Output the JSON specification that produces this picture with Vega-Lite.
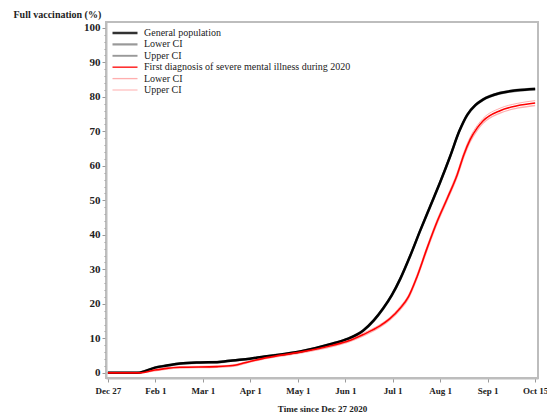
{
  "$schema": "https://vega.github.io/schema/vega-lite/v6.json",
  "width": 432,
  "height": 356,
  "autosize": {"type": "none"},
  "padding": {"left": 106, "top": 22, "right": 9, "bottom": 39},
  "background": "white",
  "config": {
    "view": {"stroke": "#bdbdbd", "strokeWidth": 2},
    "font": "'Liberation Serif', 'Times New Roman', serif",
    "axis": {"grid": false, "domainColor": "#bdbdbd", "domainWidth": 2, "tickColor": "#9a9a9a", "labelFont": "'Liberation Serif', 'Times New Roman', serif", "titleFont": "'Liberation Serif', 'Times New Roman', serif", "labelColor": "#222", "titleColor": "#222"}
  },
  "data": {"values": [
    {"t": 0, "g": 0, "gl": 0, "gu": 0.05},
    {"t": 0.61, "g": 0, "gl": 0, "gu": 0.05},
    {"t": 0.78, "g": 0.5, "gl": 0.4, "gu": 0.6},
    {"t": 0.99, "g": 1.5, "gl": 1.4, "gu": 1.6},
    {"t": 1.24, "g": 2.1, "gl": 2.0, "gu": 2.2},
    {"t": 1.52, "g": 2.7, "gl": 2.6, "gu": 2.8},
    {"t": 1.94, "g": 3.0, "gl": 2.9, "gu": 3.1},
    {"t": 2.30, "g": 3.1, "gl": 3.0, "gu": 3.2},
    {"t": 2.63, "g": 3.6, "gl": 3.5, "gu": 3.7},
    {"t": 2.99, "g": 4.1, "gl": 4.0, "gu": 4.2},
    {"t": 3.35, "g": 4.8, "gl": 4.7, "gu": 4.9},
    {"t": 4.05, "g": 6.2, "gl": 6.1, "gu": 6.3},
    {"t": 4.74, "g": 8.5, "gl": 8.4, "gu": 8.6},
    {"t": 5.06, "g": 9.9, "gl": 9.8, "gu": 10.0},
    {"t": 5.38, "g": 12.3, "gl": 12.2, "gu": 12.4},
    {"t": 5.60, "g": 15.2, "gl": 15.05, "gu": 15.35},
    {"t": 5.80, "g": 18.7, "gl": 18.55, "gu": 18.85},
    {"t": 5.98, "g": 22.5, "gl": 22.35, "gu": 22.65},
    {"t": 6.16, "g": 27.3, "gl": 27.15, "gu": 27.45},
    {"t": 6.37, "g": 34.0, "gl": 33.85, "gu": 34.15},
    {"t": 6.58, "g": 41.3, "gl": 41.15, "gu": 41.45},
    {"t": 6.79, "g": 48.3, "gl": 48.15, "gu": 48.45},
    {"t": 7.00, "g": 55.3, "gl": 55.15, "gu": 55.45},
    {"t": 7.21, "g": 62.8, "gl": 62.65, "gu": 62.95},
    {"t": 7.40, "g": 70.0, "gl": 69.85, "gu": 70.15},
    {"t": 7.57, "g": 74.8, "gl": 74.65, "gu": 74.95},
    {"t": 7.74, "g": 77.6, "gl": 77.45, "gu": 77.75},
    {"t": 7.90, "g": 79.2, "gl": 79.05, "gu": 79.35},
    {"t": 8.26, "g": 81.1, "gl": 80.95, "gu": 81.25},
    {"t": 8.62, "g": 81.9, "gl": 81.75, "gu": 82.05},
    {"t": 9.00, "g": 82.3, "gl": 82.15, "gu": 82.45},
    {"t": 0, "s": 0, "sl": 0, "su": 0.05},
    {"t": 0.67, "s": 0, "sl": 0, "su": 0.05},
    {"t": 0.99, "s": 0.8, "sl": 0.6, "su": 1.0},
    {"t": 1.24, "s": 1.3, "sl": 1.1, "su": 1.5},
    {"t": 1.52, "s": 1.6, "sl": 1.4, "su": 1.8},
    {"t": 2.30, "s": 1.8, "sl": 1.6, "su": 2.0},
    {"t": 2.63, "s": 2.1, "sl": 1.9, "su": 2.3},
    {"t": 2.99, "s": 3.3, "sl": 3.1, "su": 3.5},
    {"t": 3.35, "s": 4.4, "sl": 4.2, "su": 4.7},
    {"t": 4.05, "s": 6.0, "sl": 5.7, "su": 6.3},
    {"t": 4.74, "s": 8.0, "sl": 7.7, "su": 8.3},
    {"t": 5.06, "s": 9.2, "sl": 8.9, "su": 9.5},
    {"t": 5.38, "s": 11.1, "sl": 10.7, "su": 11.5},
    {"t": 5.73, "s": 13.6, "sl": 13.2, "su": 14.0},
    {"t": 5.94, "s": 15.7, "sl": 15.3, "su": 16.1},
    {"t": 6.16, "s": 18.8, "sl": 18.3, "su": 19.3},
    {"t": 6.33, "s": 22.0, "sl": 21.5, "su": 22.5},
    {"t": 6.51, "s": 27.8, "sl": 27.3, "su": 28.4},
    {"t": 6.72, "s": 36.0, "sl": 35.4, "su": 36.6},
    {"t": 6.94, "s": 44.0, "sl": 43.4, "su": 44.6},
    {"t": 7.15, "s": 50.6, "sl": 50.0, "su": 51.2},
    {"t": 7.36, "s": 57.5, "sl": 56.9, "su": 58.2},
    {"t": 7.50, "s": 63.3, "sl": 62.6, "su": 64.0},
    {"t": 7.63, "s": 67.6, "sl": 66.9, "su": 68.3},
    {"t": 7.78, "s": 71.0, "sl": 70.3, "su": 71.7},
    {"t": 7.90, "s": 73.0, "sl": 72.3, "su": 73.7},
    {"t": 8.26, "s": 76.0, "sl": 75.3, "su": 76.7},
    {"t": 8.62, "s": 77.4, "sl": 76.7, "su": 78.1},
    {"t": 9.00, "s": 78.2, "sl": 77.5, "su": 78.9}
  ]},
  "transform": [
    {"fold": ["g", "gl", "gu", "s", "sl", "su"], "as": ["series", "value"]},
    {"filter": "isValid(datum.value)"}
  ],
  "encoding": {
    "x": {
      "field": "t", "type": "quantitative",
      "scale": {"domain": [-0.04, 9.06], "nice": false, "zero": false},
      "axis": {
        "values": [0, 1, 2, 3, 4, 5, 6, 7, 8, 9],
        "labelExpr": "['Dec 27','Feb 1','Mar 1','Apr 1','May 1','Jun 1','Jul 1','Aug 1','Sep 1','Oct 15'][datum.value]",
        "labelFontSize": 9, "labelFontWeight": "bold", "labelPadding": 4, "tickSize": 4,
        "title": "Time since Dec 27 2020", "titleFontSize": 9, "titleFontWeight": "bold",
        "titleY": 30, "titleBaseline": "middle"
      }
    },
    "y": {
      "field": "value", "type": "quantitative",
      "scale": {"domain": [-1.5, 101.7], "nice": false, "zero": false},
      "axis": {
        "values": [0, 2, 4, 6, 8, 10, 12, 14, 16, 18, 20, 22, 24, 26, 28, 30, 32, 34, 36, 38, 40, 42, 44, 46, 48, 50, 52, 54, 56, 58, 60, 62, 64, 66, 68, 70, 72, 74, 76, 78, 80, 82, 84, 86, 88, 90, 92, 94, 96, 98, 100],
        "labelExpr": "datum.value % 10 === 0 ? datum.label : ''",
        "tickSize": {"condition": {"test": "datum.value % 10 === 0", "value": 4}, "value": 2},
        "labelFontSize": 11, "labelFontWeight": "bold", "labelPadding": 2,
        "title": "Full vaccination (%)", "titleAngle": 0, "titleAlign": "left", "titleBaseline": "middle",
        "titleX": -93, "titleY": -8, "titleFontSize": 10, "titleFontWeight": "bold"
      }
    },
    "color": {
      "field": "series", "type": "nominal",
      "scale": {"domain": ["g", "gl", "gu", "s", "sl", "su"], "range": ["#000000", "#808080", "#808080", "#ff0000", "#ff9a9a", "#ff9a9a"]},
      "legend": {
        "title": null, "orient": "none", "legendX": 14, "legendY": 6,
        "labelExpr": "({'g':'General population','gl':'Lower CI','gu':'Upper CI','s':'First diagnosis of severe mental illness during 2020','sl':'Lower CI','su':'Upper CI'})[datum.value]",
        "labelFont": "'Liberation Serif', 'Times New Roman', serif", "labelFontSize": 10, "labelColor": "#222", "labelLimit": 400, "labelOffset": 14,
        "symbolType": "M-5,0H5", "symbolSize": 25, "rowPadding": 1.4, "symbolOffset": 0
      }
    },
    "strokeWidth": {
      "field": "series", "type": "nominal",
      "scale": {"domain": ["g", "gl", "gu", "s", "sl", "su"], "range": [2.5, 1, 1, 2.5, 1, 1]},
      "legend": null
    }
  },
  "layer": [
    {"transform": [{"filter": "indexof(['gl','gu','sl','su'], datum.series) >= 0"}], "mark": {"type": "line", "interpolate": "monotone", "opacity": 0.8}},
    {"transform": [{"filter": "indexof(['g','s'], datum.series) >= 0"}], "mark": {"type": "line", "interpolate": "monotone"}}
  ]
}
